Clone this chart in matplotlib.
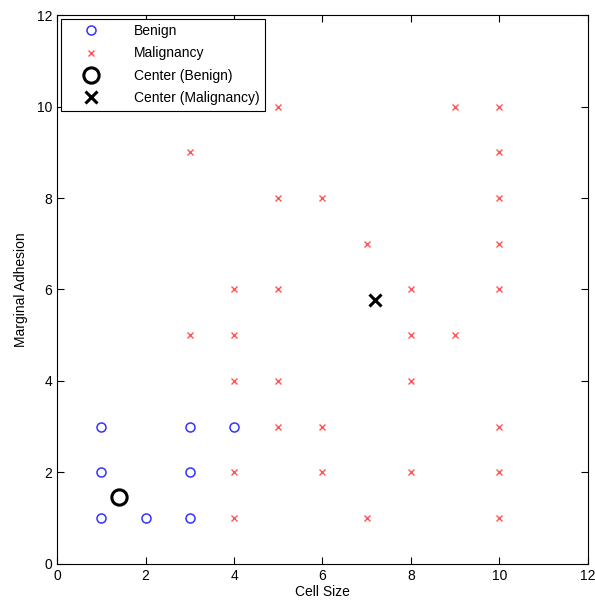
import matplotlib
matplotlib.use("Agg")
from matplotlib import pyplot as plt

# data
benign_x = [1, 1, 1, 2, 3, 3, 3, 4]
benign_y = [1, 2, 3, 1, 1, 2, 3, 3]
malig_x = [3, 3, 4, 4, 4, 4, 4, 5, 5, 5, 5, 5, 6, 6, 6, 7, 7,
           8, 8, 8, 8, 9, 9, 10, 10, 10, 10, 10, 10, 10, 10]
malig_y = [9, 5, 6, 5, 4, 2, 1, 10, 8, 6, 4, 3, 8, 3, 2, 7, 1,
           6, 5, 4, 2, 10, 5, 10, 9, 8, 7, 6, 3, 2, 1]
center_benign = (1.40, 1.47)
center_malig = (7.19, 5.78)


def main():
    plt.rcParams["font.family"] = ["Liberation Sans", "DejaVu Sans"]
    fig = plt.figure(figsize=(5.95, 6.05), dpi=100)
    ax = fig.add_axes([0.096, 0.068, 0.892, 0.907])

    ax.plot(benign_x, benign_y, "o", color="#3333ff", mfc="none",
            ms=6.5, mew=1.1, label="Benign")
    ax.plot(malig_x, malig_y, "x", color="#ff5555",
            ms=5, mew=1.0, label="Malignancy")
    ax.plot(*center_benign, "o", color="black", mfc="none",
            ms=11, mew=2.2, label="Center (Benign)")
    ax.plot(*center_malig, "x", color="black",
            ms=8, mew=2.2, label="Center (Malignancy)")

    ax.set_xlim(0, 12)
    ax.set_ylim(0, 12)
    ax.set_xticks(range(0, 13, 2))
    ax.set_yticks(range(0, 13, 2))
    ax.tick_params(direction="in", top=True, right=True, labelsize=10,
                   length=5, width=0.8)
    for s in ax.spines.values():
        s.set_linewidth(0.8)
    ax.set_xlabel("Cell Size", fontsize=10, labelpad=2)
    ax.set_ylabel("Marginal Adhesion", fontsize=10, labelpad=6)

    leg = ax.legend(loc="upper left", fancybox=False, edgecolor="black",
                    framealpha=1, fontsize=10, borderaxespad=0.25,
                    handlelength=3.6, handletextpad=1.3, labelspacing=0.6,
                    borderpad=0.4)
    leg.get_frame().set_linewidth(0.8)

    fig.savefig("out.png", dpi=100)


if __name__ == "__main__":
    main()
